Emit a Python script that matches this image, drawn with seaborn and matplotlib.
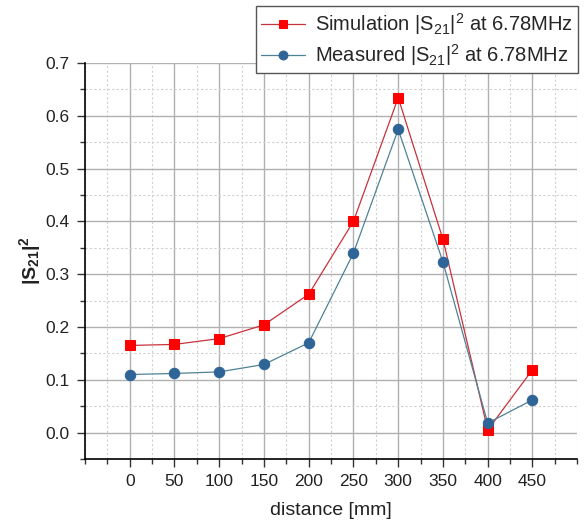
import matplotlib
matplotlib.use("Agg")
import matplotlib.pyplot as plt
import seaborn as sns
import pandas as pd
from matplotlib.ticker import MultipleLocator

distance = [0, 50, 100, 150, 200, 250, 300, 350, 400, 450]
sim_s21 = [0.165, 0.167, 0.178, 0.204, 0.262, 0.400, 0.634, 0.366, 0.005, 0.119]
meas_s21 = [0.110, 0.112, 0.115, 0.129, 0.170, 0.340, 0.574, 0.323, 0.018, 0.062]
sim_label = r"Simulation |S$_{21}$|$^2$ at 6.78MHz"
meas_label = r"Measured |S$_{21}$|$^2$ at 6.78MHz"

sns.set_style("white")
plt.rcParams['font.family'] = ['Liberation Sans', 'DejaVu Sans']
plt.rcParams['mathtext.fontset'] = 'custom'
plt.rcParams['mathtext.rm'] = 'Liberation Sans'
plt.rcParams['mathtext.it'] = 'Liberation Sans'
plt.rcParams['mathtext.bf'] = 'Liberation Sans:bold'

df = pd.DataFrame({"distance": distance, "sim": sim_s21, "meas": meas_s21})

fig = plt.figure(figsize=(5.86, 5.24), dpi=100)
ax = fig.add_axes([0.145, 0.124, 0.84, 0.756])

sns.lineplot(data=df, x="distance", y="sim", ax=ax, color="#c8323c", linewidth=0.9,
             marker="s", markersize=6.5, markerfacecolor="#ff0000", markeredgecolor="#ff0000",
             label=sim_label, zorder=3)
sns.lineplot(data=df, x="distance", y="meas", ax=ax, color="#4f8296", linewidth=0.9,
             marker="o", markersize=7.5, markerfacecolor="#2e6496", markeredgecolor="#2e6496",
             label=meas_label, zorder=3)

ax.set_xlim(-50, 500)
ax.set_ylim(-0.05, 0.7)
ax.xaxis.set_major_locator(MultipleLocator(50))
ax.xaxis.set_minor_locator(MultipleLocator(25))
ax.yaxis.set_major_locator(MultipleLocator(0.1))
ax.yaxis.set_minor_locator(MultipleLocator(0.05))
ax.set_xticks(distance)
ax.set_yticks([0.0, 0.1, 0.2, 0.3, 0.4, 0.5, 0.6, 0.7])
ax.set_yticklabels(["0.0", "0.1", "0.2", "0.3", "0.4", "0.5", "0.6", "0.7"])

ax.grid(True, which="major", color="#b0b0b0", linewidth=1.0, linestyle="-")
ax.grid(True, which="minor", color="#d0d0d0", linewidth=0.8, linestyle=(0, (2, 2)))
ax.set_axisbelow(True)

for s in ["top", "right"]:
    ax.spines[s].set_visible(False)
for s in ["left", "bottom"]:
    ax.spines[s].set_color("black")
    ax.spines[s].set_linewidth(1.2)

ax.tick_params(axis="both", which="major", direction="out", length=6, width=1,
               color="#333333", labelsize=12.5, labelcolor="#222222", pad=5,
               left=True, bottom=True)
ax.tick_params(axis="both", which="minor", direction="out", length=3.5, width=1,
               color="#333333", left=True, bottom=True)

ax.set_xlabel("distance [mm]", fontsize=14, color="#222222", labelpad=9)
ax.set_ylabel(r"$\mathbf{|S_{21}|^2}$", fontsize=14, color="#222222", labelpad=2)

leg = ax.legend(loc="upper right", bbox_to_anchor=(578/586, 1 - 6/524),
                bbox_transform=fig.transFigure, fontsize=14.5, frameon=True,
                fancybox=False, edgecolor="#555555", framealpha=1,
                borderpad=0.25, handlelength=2.2, handletextpad=0.5,
                labelspacing=0.25, borderaxespad=0, markerscale=0.85)
leg.get_frame().set_linewidth(1.0)

fig.savefig("out.png", dpi=100)
